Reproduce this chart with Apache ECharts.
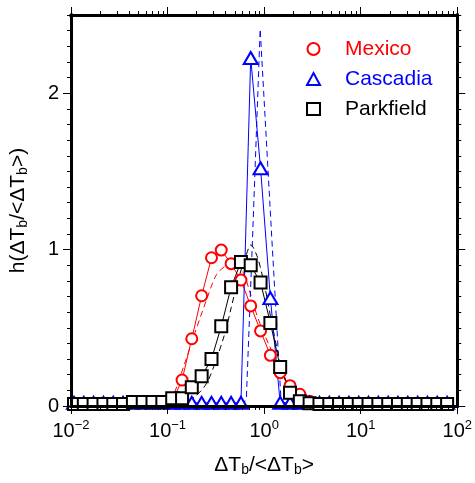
<!DOCTYPE html>
<html>
<head>
<meta charset="utf-8">
<script src="https://cdn.jsdelivr.net/npm/echarts@6/dist/echarts.min.js"></script>
<style>
  html, body { margin: 0; padding: 0; background: #fff; }
  #chart { width: 475px; height: 483px; }
</style>
</head>
<body>
<div id="chart"></div>
<script>
// bin centres of the histograms (dT_b / <dT_b>)
const binX = [0.01074, 0.01358, 0.01714, 0.02168, 0.02741, 0.03459, 0.04375, 0.05534, 0.06982, 0.08831,
  0.1117, 0.1413, 0.1782, 0.2254, 0.2851, 0.3597, 0.4550, 0.5754, 0.7261, 0.9183,
  1.161, 1.466, 1.854, 2.344, 2.958, 3.741, 4.732, 5.970, 7.551, 9.550,
  12.05, 15.24, 19.28, 24.32, 30.76, 38.90, 49.09, 62.09, 78.52]

const mexicoH = [null, null, null, null, null, null, null, null, null, null,
  0.03, 0.166, 0.43, 0.705, 0.948, 0.997, 0.91, 0.805, 0.64, 0.48,
  0.324, 0.213, 0.13, 0.075, 0.03, 0.01, null, null, null, null,
  null, null, null, null, null, null, null, null, null]

const cascadiaH = [0.02, 0.02, 0.02, 0.02, 0.02, 0.02, 0.02, 0.02, 0.02, 0.02,
  0.02, 0.02, 0.02, 0.02, 0.02, 0.02, 0.02, 0.02, 2.225, 1.52,
  0.69, 0.02, 0.02, 0.02, 0.02, 0.02, 0.02, 0.02, 0.02, 0.02,
  0.02, 0.02, 0.02, 0.02, 0.02, 0.02, 0.02, 0.02, 0.02]

const parkfieldH = [0.012, 0.012, 0.012, 0.012, 0.012, 0.012, 0.025, 0.025, 0.025, 0.025,
  0.05, 0.05, 0.12, 0.19, 0.30, 0.51, 0.76, 0.92, 0.90, 0.79,
  0.53, 0.25, 0.085, 0.03, 0.017, 0.012, 0.012, 0.012, 0.012, 0.012,
  0.012, 0.012, 0.012, 0.012, 0.012, 0.012, 0.012, 0.012, 0.012]

// fitted curves (dashed)
const mexicoFitX = [0.0845, 0.0990, 0.1148, 0.1462, 0.1926, 0.2536, 0.3209, 0.4062, 0.4743, 0.6003,
  0.7026, 0.8228, 0.9608, 1.125, 1.317, 1.538, 1.801, 2.189, 2.668, 3.376, 4.616]
const mexicoFitY = [0.0, 0.03, 0.07, 0.25, 0.47, 0.68, 0.84, 0.90, 0.92, 0.86,
  0.74, 0.60, 0.486, 0.39, 0.29, 0.21, 0.145, 0.08, 0.043, 0.017, 0.0]

const cascadiaFitX = [0.5956, 0.6546, 0.7593, 0.9101, 1.199, 1.492, 1.718]
const cascadiaFitY = [0.0, 0.05, 1.08, 2.41, 1.08, 0.05, 0.0]

const parkfieldFitX = [0.1353, 0.1926, 0.2536, 0.3083, 0.3902, 0.4567, 0.5336, 0.6247, 0.7311, 0.8542,
  0.9608, 1.081, 1.216, 1.368, 1.538, 1.801, 2.109, 2.668, 3.648]
const parkfieldFitY = [0.0, 0.06, 0.145, 0.27, 0.46, 0.63, 0.80, 0.93, 1.03, 0.95,
  0.83, 0.68, 0.51, 0.36, 0.23, 0.12, 0.06, 0.017, 0.0]

// axis ticks
const xMajor = [0.01, 0.1, 1, 10, 100]
const xMinor = [0.02, 0.03, 0.04, 0.05, 0.06, 0.07, 0.08, 0.09,
  0.2, 0.3, 0.4, 0.5, 0.6, 0.7, 0.8, 0.9,
  2, 3, 4, 5, 6, 7, 8, 9,
  20, 30, 40, 50, 60, 70, 80, 90]
const yMajor = [0, 1, 2]

const FONT = 'Liberation Sans'
const RED = '#ff0000'
const BLUE = '#0000ff'
const BLACK = '#000000'

const pairs = (xs, ys) => xs.map((x, i) => [x, ys[i]])

const chart = echarts.init(document.getElementById('chart'))

// frame = axis line of the "major" axes, tick-only axes get an invisible line
const axisLine = (frame) => ({
  show: true,
  onZero: false,
  lineStyle: frame ? { color: BLACK, width: 3, cap: 'square' } : { color: 'rgba(0,0,0,0)', width: 0 }
})

const logAxis = (position, major, showLabel) => ({
  type: 'log',
  logBase: 10,
  min: 0.01,
  max: 100,
  position: position,
  z: 10,
  axisLine: axisLine(major),
  splitLine: { show: false },
  axisTick: {
    show: true,
    inside: false,
    length: major ? 8 : 4,
    lineStyle: { color: BLACK, width: 1 },
    customValues: major ? xMajor : xMinor
  },
  axisLabel: {
    show: showLabel,
    customValues: xMajor,
    margin: 13,
    formatter: function (v) {
      const e = Math.round(Math.log10(v))
      return '{b|10}{s|' + (e < 0 ? '\u2212' + (-e) : e) + '}'
    },
    rich: {
      b: { fontSize: 20, fontFamily: FONT, color: BLACK },
      s: { fontSize: 13, fontFamily: FONT, color: BLACK, padding: [0, 0, 12, 0] }
    }
  }
})

const valAxis = (position, major, showLabel) => ({
  type: 'value',
  min: 0,
  max: 2.5,
  interval: 0.1,
  position: position,
  z: 10,
  axisLine: axisLine(major),
  splitLine: { show: false },
  axisTick: {
    show: true,
    inside: false,
    length: major ? 8 : 4,
    lineStyle: { color: BLACK, width: 1 },
    customValues: major ? yMajor : undefined
  },
  axisLabel: {
    show: showLabel,
    customValues: yMajor,
    margin: 12,
    fontSize: 20,
    fontFamily: FONT,
    color: BLACK
  }
})

const xMain = logAxis('bottom', true, true)
xMain.name = '{n|\u0394T}{sub|b}{n|/<\u0394T}{sub|b}{n|>}'
xMain.nameLocation = 'middle'
xMain.nameGap = 48
xMain.nameTextStyle = {
  rich: {
    n: { fontSize: 21, fontFamily: FONT, color: BLACK },
    sub: { fontSize: 14, fontFamily: FONT, color: BLACK, padding: [9, 0, 0, 0] }
  }
}

const yMain = valAxis('left', true, true)
yMain.name = '{n|h(\u0394T}{sub|b}{n|/<\u0394T}{sub|b}{n|>)}'
yMain.nameLocation = 'middle'
yMain.nameGap = 41
yMain.nameTextStyle = {
  rich: {
    n: { fontSize: 21, fontFamily: FONT, color: BLACK },
    sub: { fontSize: 14, fontFamily: FONT, color: BLACK, padding: [9, 0, 0, 0] }
  }
}

const fitSeries = (name, xs, ys, color, smooth) => ({
  name: name + ' fit',
  type: 'line',
  data: pairs(xs, ys),
  showSymbol: false,
  symbol: 'none',
  smooth: smooth,
  silent: true,
  lineStyle: { color: color, width: 1, type: [6, 4] },
  z: 2
})

const histSeries = (name, ys, color, symbol, size) => ({
  name: name,
  type: 'line',
  data: pairs(binX, ys),
  symbol: symbol,
  symbolSize: size,
  showSymbol: true,
  lineStyle: { color: color, width: 1 },
  itemStyle: { color: color, borderColor: color, borderWidth: 1.8 },
  z: 3
})

chart.setOption({
  animation: false,
  backgroundColor: '#fff',
  grid: {
    left: 69,
    right: 14,
    top: 15,
    bottom: 77
  },
  legend: {
    orient: 'vertical',
    left: 301,
    top: 32,
    itemWidth: 13,
    itemHeight: 12,
    itemGap: 6,
    symbolKeepAspect: true,
    textStyle: { fontSize: 21, fontFamily: FONT, lineHeight: 24, padding: [0, 0, 0, 20] },
    data: [
      { name: 'Mexico', icon: 'emptyCircle', itemStyle: { color: RED, borderColor: RED, borderWidth: 1.6 }, textStyle: { color: RED } },
      { name: 'Cascadia', icon: 'emptyTriangle', itemStyle: { color: BLUE, borderColor: BLUE, borderWidth: 1.8 }, textStyle: { color: BLUE } },
      { name: 'Parkfield', icon: 'emptyRect', itemStyle: { color: BLACK, borderColor: BLACK, borderWidth: 1.8 }, textStyle: { color: BLACK } }
    ]
  },
  xAxis: [xMain, logAxis('bottom', false, false), logAxis('top', true, false), logAxis('top', false, false)],
  yAxis: [yMain, valAxis('left', false, false), valAxis('right', true, false), valAxis('right', false, false)],
  series: [
    fitSeries('Mexico', mexicoFitX, mexicoFitY, RED, 0.3),
    fitSeries('Cascadia', cascadiaFitX, cascadiaFitY, BLUE, false),
    fitSeries('Parkfield', parkfieldFitX, parkfieldFitY, BLACK, 0.3),
    histSeries('Mexico', mexicoH, RED, 'emptyCircle', 11),
    histSeries('Cascadia', cascadiaH, BLUE, 'emptyTriangle', [14, 12]),
    histSeries('Parkfield', parkfieldH, BLACK, 'emptyRect', 12)
  ]
})
</script>
</body>
</html>
